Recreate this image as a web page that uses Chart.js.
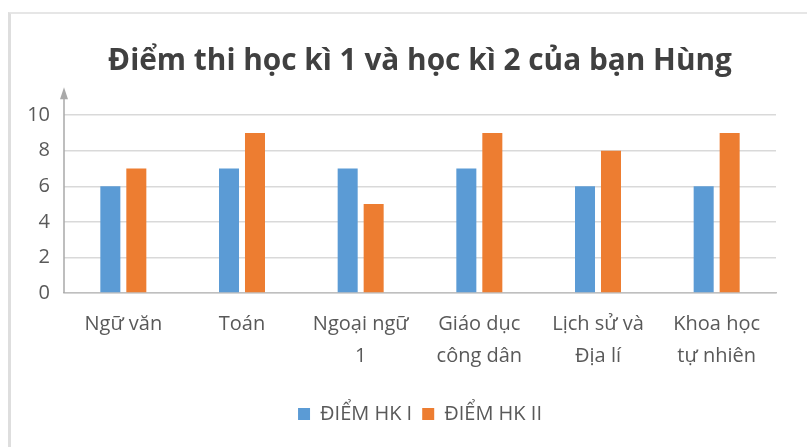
<!DOCTYPE html>
<html>
<head>
<meta charset="utf-8">
<script src="https://cdn.jsdelivr.net/npm/chart.js@4"></script>
<style>
    body { margin: 0; background: #fff; }
    #wrap { position: relative; width: 807px; height: 447px; overflow: hidden; background: #fff; }
    #frame { position: absolute; left: 8px; top: 12px; width: 840px; height: 480px;
             border-left: 3px solid #dedede; border-top: 2px solid #e6e6e6; }
    canvas { position: absolute; left: 0; top: 0; }
</style>
</head>
<body>
<div id="wrap">
    <div id="frame"></div>
    <canvas id="chart" width="807" height="447"></canvas>
</div>
<script>
// ===== DATA =====
const subjects = [["Ngữ văn"], ["Toán"], ["Ngoại ngữ", "1"], ["Giáo dục", "công dân"], ["Lịch sử và", "Địa lí"], ["Khoa học", "tự nhiên"]];
const diemHK1 = [6, 7, 7, 7, 6, 6];
const diemHK2 = [7, 9, 5, 9, 8, 9];
const seriesNames = ["ĐIỂM HK I", "ĐIỂM HK II"];
const yMin = 0;
const yMax = 10;
const yStep = 2;

const labelFont = "Open Sans";
const gray = "#595959";

// ===== Y AXIS ARROW =====
const axisArrow = {
    id: "axisArrow",
    afterDatasetsDraw(chart) {
        const ctx = chart.ctx;
        const area = chart.chartArea;
        const x0 = area.left;
        const yBottom = chart.scales.y.getPixelForValue(yMin);
        const yTop = area.top - 28;
        ctx.save();
        ctx.strokeStyle = "#a9a9a9";
        ctx.fillStyle = "#a9a9a9";
        ctx.lineWidth = 1.5;
        ctx.beginPath();
        ctx.moveTo(x0, yBottom);
        ctx.lineTo(x0, yTop + 4);
        ctx.stroke();
        ctx.beginPath();
        ctx.moveTo(x0, yTop);
        ctx.lineTo(x0 - 4, yTop + 12);
        ctx.lineTo(x0 + 4, yTop + 12);
        ctx.closePath();
        ctx.fill();
        ctx.restore();
    }
};

// ===== CHART =====
new Chart(document.getElementById("chart"), {
    type: "bar",
    data: {
        labels: subjects,
        datasets: [
            { label: seriesNames[0], data: diemHK1, backgroundColor: "#5b9bd5" },
            { label: seriesNames[1], data: diemHK2, backgroundColor: "#ed7d31" }
        ]
    },
    options: {
        responsive: false,
        animation: false,
        layout: { padding: { top: 10, left: 7, right: 31, bottom: 13 } },
        datasets: { bar: { categoryPercentage: 0.438, barPercentage: 0.77 } },
        plugins: {
            title: {
                display: true,
                fullSize: false,
                text: "Điểm thi học kì 1 và học kì 2 của bạn Hùng",
                color: "#404040",
                font: { family: "Open Sans", size: 29.8, weight: "bold", lineHeight: 1.2 },
                padding: { top: 34, bottom: 35.4 }
            },
            legend: {
                position: "bottom",
                fullSize: false,
                labels: {
                    color: gray,
                    font: { family: labelFont, size: 20 },
                    boxWidth: 12,
                    boxHeight: 12,
                    padding: 10
                }
            },
            tooltip: { enabled: false }
        },
        scales: {
            x: {
                grid: { display: false, drawTicks: false },
                border: { color: "#bfbfbf", width: 1.5 },
                ticks: {
                    color: gray,
                    font: { family: labelFont, size: 20, lineHeight: 1.6 },
                    padding: 15,
                    maxRotation: 0,
                    autoSkip: false
                },
                afterFit: s => { s.height = 101; }
            },
            y: {
                min: yMin,
                max: yMax,
                grid: { color: "#d9d9d9", lineWidth: 1.5, drawTicks: false },
                border: { display: false },
                ticks: {
                    stepSize: yStep,
                    color: gray,
                    font: { family: labelFont, size: 20 },
                    padding: 14
                },
                afterFit: s => { s.width = 57; }
            }
        }
    },
    plugins: [axisArrow]
});
</script>
</body>
</html>
